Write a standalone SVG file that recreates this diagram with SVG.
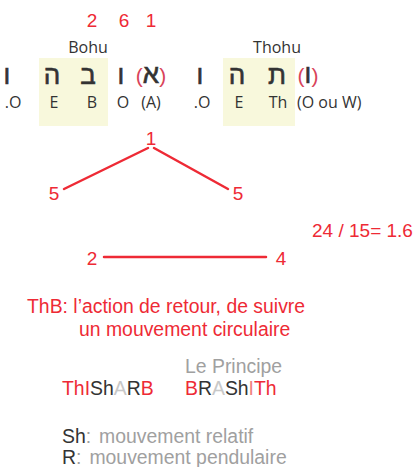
<svg xmlns="http://www.w3.org/2000/svg" width="418" height="467" viewBox="0 0 418 467">
<style>
text{font-family:"Liberation Sans",Arial,sans-serif}
.red{fill:#ee2a35}
.pink{fill:#d9435a}
.dk{fill:#333}
.gr{fill:#a0a0a0}
.lg{fill:#c8c8c8}
.os{font-family:"Open Sans","Noto Sans",sans-serif}
.heb{font-family:"Liberation Sans","DejaVu Sans",sans-serif;font-size:26px;fill:#333;stroke:#333;stroke-width:0.6;text-anchor:middle}
.par{fill:#d9435a;stroke:none;font-size:21px}
.lat{font-family:"Open Sans","Noto Sans",sans-serif;font-size:16px;fill:#333}
.mid{text-anchor:middle}
.num{font-size:19px;fill:#ee2a35;text-anchor:middle}
.txt{font-size:19.4px}
.box{fill:#f8f8dc}
.ln{stroke:#ee2a35;stroke-width:2.5;fill:none;stroke-linecap:round}
</style>
<rect width="418" height="467" fill="#fff"/>
<g id="boxes">
<rect class="box" x="39" y="58" width="69" height="68"/>
<rect class="box" x="223" y="58" width="72" height="68"/>
</g>
<g id="top-numbers">
<text class="num" x="92" y="27">2</text>
<text class="num" x="124" y="27">6</text>
<text class="num" x="151" y="27">1</text>
</g>
<g id="bohu">
<text x="88" y="53" font-size="16" class="dk os" text-anchor="middle">Bohu</text>
<text class="heb" x="7" y="84">ו</text>
<text class="heb" x="52" y="84">ה</text>
<text class="heb" x="88" y="84">ב</text>
<text class="heb" x="121" y="84">ו</text>
<text class="heb" x="151" y="83"><tspan class="par">(</tspan>א<tspan class="par">)</tspan></text>
<text class="lat mid" x="13" y="108">.O</text>
<text class="lat mid" x="54" y="108">E</text>
<text class="lat mid" x="92" y="108">B</text>
<text class="lat mid" x="123" y="108">O</text>
<text class="lat mid pink" x="151" y="108">(A)</text>
</g>
<g id="thohu">
<text x="277" y="53" font-size="16" class="dk os" text-anchor="middle">Thohu</text>
<text class="heb" x="200" y="84">ו</text>
<text class="heb" x="237" y="84">ה</text>
<text class="heb" x="277" y="84">ת</text>
<text class="heb" x="308" y="83"><tspan class="par">(</tspan>ו<tspan class="par">)</tspan></text>
<text class="lat mid" x="202" y="108">.O</text>
<text class="lat mid" x="239" y="108">E</text>
<text class="lat mid" x="278" y="108">Th</text>
<text class="lat pink" x="297" y="108">(O ou W)</text>
</g>
<g id="connectors">
<line class="ln" x1="148" y1="148" x2="64" y2="189"/>
<line class="ln" x1="154" y1="148" x2="228" y2="189"/>
<line class="ln" x1="104" y1="257" x2="266" y2="257"/>
</g>
<g id="n1"><text class="num" x="151" y="145">1</text></g>
<g id="n5a"><text class="num" x="54" y="200">5</text></g>
<g id="n5b"><text class="num" x="238" y="200">5</text></g>
<g id="n2"><text class="num" x="92" y="265">2</text></g>
<g id="n4"><text class="num" x="281" y="265">4</text></g>
<g id="ratio"><text class="num" x="362.5" y="237">24 / 15= 1.6</text></g>
<g id="thb">
<text x="27" y="313" class="txt red">ThB: l’action de retour, de suivre</text>
<text x="79" y="336" class="txt red">un mouvement circulaire</text>
</g>
<g id="words">
<text x="185" y="373" class="txt gr">Le Principe</text>
<text x="62" y="395" class="txt"><tspan class="red">ThI</tspan><tspan class="dk">Sh</tspan><tspan class="lg">A</tspan><tspan class="dk">R</tspan><tspan class="red">B</tspan></text>
<text x="185" y="395" class="txt"><tspan class="red">B</tspan><tspan class="dk">R</tspan><tspan class="lg">A</tspan><tspan class="dk">Sh</tspan><tspan fill="#f08080">I</tspan><tspan class="red">Th</tspan></text>
</g>
<g id="legend">
<text x="62" y="443" class="txt"><tspan class="dk">Sh</tspan><tspan class="gr">:</tspan><tspan class="gr" dx="8">mouvement relatif</tspan></text>
<text x="62" y="464" class="txt"><tspan class="dk">R</tspan><tspan class="gr">:</tspan><tspan class="gr" dx="8">mouvement pendulaire</tspan></text>
</g>
</svg>
